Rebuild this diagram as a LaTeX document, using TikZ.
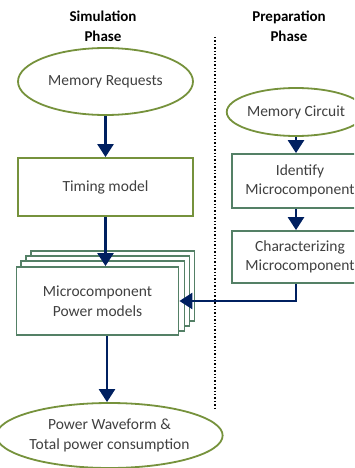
\documentclass[tikz,border=0pt]{standalone}
\usepackage{fontspec}
\setmainfont{Carlito}
\usetikzlibrary{arrows.meta,calc,shapes.geometric}
\definecolor{olive}{RGB}{118,146,60}
\definecolor{sage}{RGB}{84,128,102}
\definecolor{navy}{RGB}{0,32,96}
\definecolor{txt}{RGB}{64,64,64}
\tikzset{
  x=1pt, y=-1pt,
  oval/.style={ellipse, draw=olive, line width=1.8pt, fill=white, inner sep=0pt,
    text=txt, align=center, font=\fontsize{15.5}{19.5}\selectfont},
  olivebox/.style={rectangle, draw=olive, line width=1.8pt, fill=white, inner sep=0pt,
    text=txt, align=center, font=\fontsize{15.5}{19.5}\selectfont},
  sagebox/.style={rectangle, draw=sage, line width=1.8pt, fill=white, inner sep=0pt,
    text=txt, align=center, font=\fontsize{15.5}{19.5}\selectfont},
  stackcopy/.style={draw=sage, line width=1.8pt, fill=white},
  flow/.style={draw=navy, line width=2.5pt, -{Triangle[width=16pt,length=13pt]}},
  phase/.style={font=\bfseries\fontsize{15}{20}\selectfont, align=center},
}
\begin{document}
\begin{tikzpicture}
\useasboundingbox (0,0) rectangle (354,468);
\clip (0,0) rectangle (354,468);

% phase headings and divider
\node[phase] (simT) at (103,26) {Simulation\\Phase};
\node[phase] (prepT) at (289,26) {Preparation\\Phase};
\coordinate (divTop) at (215,37);
\coordinate (divBot) at (215,410);
\draw[line width=1.4pt, dotted] (divTop) -- (divBot);

% simulation column
\node[oval, minimum width=175, minimum height=67] (req) at (105.5,81.5) {Memory Requests};
\node[olivebox, minimum width=175, minimum height=58] (tim) at (105.5,187) {Timing model};
\node[sagebox, minimum width=162, minimum height=68] (pm) at (97.5,301) {};
\foreach \k in {3,2,1}
  \draw[stackcopy] ($(pm.south west)+(5*\k,-5*\k)$) rectangle ($(pm.north east)+(5*\k,-5*\k)$);
\node[sagebox, minimum width=162, minimum height=68] (pmf) at (97.5,301) {Microcomponent\\Power models};
\node[oval, minimum width=175, minimum height=65] (pw) at (109.5,435.5) {Power Waveform \&\\Total power consumption};

% preparation column
\node[oval, minimum width=128, minimum height=48] (mc) at (296,112) {Memory Circuit};
\node[sagebox, minimum width=136, minimum height=54] (ic) at (300,181) {Identify\\Microcomponent};
\node[sagebox, minimum width=136, minimum height=52] (ch) at (300,257) {Characterizing\\Microcomponent};

% connectors
\draw[flow] (req.south -| tim.north) -- (tim.north);
\draw[flow] (tim.south) -- (tim.south |- pmf.north);
\draw[flow] ([xshift=9.5]pmf.south) -- ([xshift=9.5]pmf.south |- pw.north);
\draw[flow] (mc.south) -- ([xshift=-4]ic.north);
\draw[flow] ([xshift=-4]ic.south) -- ([xshift=-4]ch.north);
\draw[flow] ([xshift=-4]ch.south) |- (pmf.east);
\end{tikzpicture}
\end{document}
